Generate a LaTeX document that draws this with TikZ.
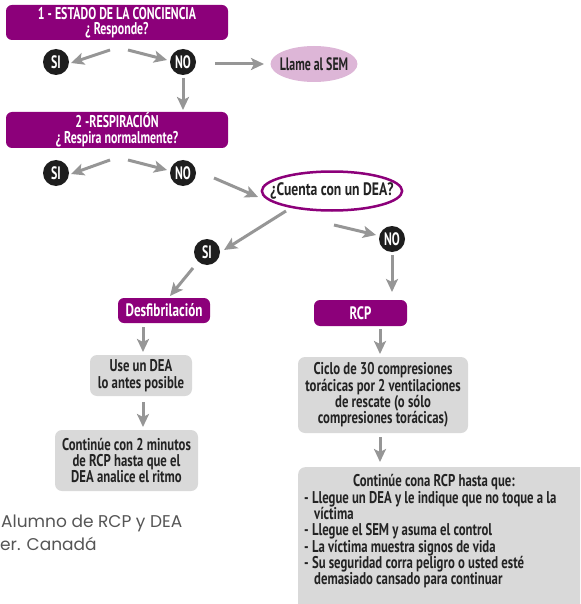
\documentclass[tikz,border=0pt]{standalone}
\usepackage{fontspec}
\setmainfont{PT Sans}[FakeStretch=0.71]
\newfontfamily\narrowfont{PT Sans}[FakeStretch=0.66]
\newfontfamily\headfont{PT Sans}[FakeStretch=0.70]
\newfontfamily\bigfont{PT Sans}[FakeStretch=0.75]
\newfontfamily\deafont{PT Sans}[FakeStretch=0.76]
\newfontfamily\desfont{PT Sans}[FakeStretch=0.73]
\newfontfamily\notefont{Poppins}
\usetikzlibrary{shapes.geometric,arrows.meta}
\definecolor{purp}{RGB}{140,0,122}
\definecolor{pinkfill}{RGB}{221,182,215}
\definecolor{boxgray}{RGB}{217,217,217}
\definecolor{arrgray}{RGB}{150,150,150}
\definecolor{txt}{RGB}{35,35,35}
\definecolor{dark}{RGB}{30,30,30}
\tikzset{
  pbox/.style={draw=none,fill=purp,rounded corners=6pt,text=white,font=\bfseries\fontsize{18}{15}\selectfont,align=center,inner sep=0pt},
  hbox/.style={pbox,minimum width=222pt,font=\headfont\bfseries\fontsize{17}{15.5}\selectfont},
  gbox/.style={draw=none,fill=boxgray,rounded corners=7pt,text=txt,font=\bigfont\bfseries\fontsize{17}{16.4}\selectfont,align=center,inner sep=0pt},
  yn/.style={circle,fill=dark,text=white,minimum size=26pt,inner sep=0pt,font=\narrowfont\bfseries\fontsize{18}{16}\selectfont},
  arr/.style={draw=arrgray,line width=3pt,-{Stealth[length=13pt,width=12pt,inset=3pt]}},
}
\begin{document}
\begin{tikzpicture}[x=1pt,y=-1pt]
\useasboundingbox (0,0) rectangle (580,604);
\clip (0,0) rectangle (580,604);
% nodes
\node[hbox,minimum height=35pt] (b1) at (117,22.5) {1 - ESTADO DE LA CONCIENCIA\\¿ Responde?};
\node[yn] (si1) at (56,62) {SI};
\node[yn] (no1) at (183,62) {NO};
\node[ellipse,fill=pinkfill,minimum height=36pt,inner xsep=-3.5pt,inner ysep=0pt,text=txt,font=\narrowfont\bfseries\fontsize{18}{16}\selectfont] (sem) at (314,64) {Llame al SEM};
\node[hbox,minimum height=36pt] (b2) at (117,130) {2 -RESPIRACIÓN\\¿ Respira normalmente?};
\node[yn] (si2) at (56,173) {SI};
\node[yn] (no2) at (183,173) {NO};
\node[ellipse,draw=purp,line width=2.5pt,fill=white,minimum height=39pt,inner xsep=-12pt,inner ysep=0pt,text=txt,font=\deafont\bfseries\fontsize{18}{16}\selectfont] (dea) at (332,191) {¿Cuenta con un DEA?};
\node[yn] (si3) at (207,252) {SI};
\node[yn] (no3) at (392,239) {NO};
\node[pbox,minimum width=92pt,minimum height=25pt,font=\desfont\bfseries\fontsize{18}{15}\selectfont] (desf) at (164,310.5) {Desfibrilación};
\node[pbox,minimum width=93pt,minimum height=26pt] (rcp) at (360.5,313) {RCP};
\node[gbox,minimum width=102pt,minimum height=41pt] (use) at (141,375.5) {Use un DEA\\lo antes posible};
\node[gbox,minimum width=143pt,minimum height=61pt] (cont) at (126.5,460.5) {Continúe con 2 minutos\\de RCP hasta que el\\DEA analice el ritmo};
\node[gbox,minimum width=170pt,minimum height=76pt] (ciclo) at (383,395) {Ciclo de 30 compresiones\\torácicas por 2 ventilaciones\\de rescate (o sólo\\compresiones torácicas)};
\node[gbox,anchor=north west,minimum width=300pt,minimum height=150pt] (big) at (298,467) {};
\node[anchor=base,inner sep=0pt,text=txt,font=\bigfont\bfseries\fontsize{17}{16}\selectfont] (bighead) at (434,486) {Continúe cona RCP hasta que:};
\node[anchor=north west,inner sep=0pt,text=txt,align=left,font=\bigfont\bfseries\fontsize{17}{16.3}\selectfont] (bigtxt) at (304,491) {-\ Llegue un DEA y le indique que no toque a la\\\hspace*{10pt}víctima\\-\ Llegue el SEM y asuma el control\\-\ La víctima muestra signos de vida\\-\ Su seguridad corra peligro o usted esté\\\hspace*{10pt}demasiado cansado para continuar};
\node[anchor=north west,inner sep=0pt,align=left,text={rgb,255:red,85;green,85;blue,85},font=\notefont\fontsize{17}{23}\selectfont] (note) at (0,515) {\hspace*{1pt}Alumno de RCP y DEA\\er. Canadá};
% arrow coordinates
\coordinate (a1) at (110,50); \coordinate (a1e) at (71,63);
\coordinate (a2) at (128,50); \coordinate (a2e) at (167,60);
\coordinate (a3) at (215,64); \coordinate (a3e) at (264,64);
\coordinate (a4) at (183,78); \coordinate (a4e) at (183,110);
\coordinate (a5) at (110,160); \coordinate (a5e) at (71,174);
\coordinate (a6) at (128,160); \coordinate (a6e) at (167,170);
\coordinate (a7) at (214,178); \coordinate (a7e) at (258,197);
\coordinate (a8) at (286,211); \coordinate (a8e) at (224,250);
\coordinate (a9) at (334,225); \coordinate (a9e) at (376,235);
\coordinate (a10) at (193,268); \coordinate (a10e) at (170,296);
\coordinate (a11) at (392,255); \coordinate (a11e) at (392,292);
\coordinate (a12) at (143,327); \coordinate (a12e) at (143,352);
\coordinate (a13) at (143,402); \coordinate (a13e) at (143,427);
\coordinate (a14) at (380,329); \coordinate (a14e) at (380,354);
\coordinate (a15) at (380,437); \coordinate (a15e) at (380,462);
\draw[arr] (a1) -- (a1e);
\draw[arr] (a2) -- (a2e);
\draw[arr] (a3) -- (a3e);
\draw[arr] (a4) -- (a4e);
\draw[arr] (a5) -- (a5e);
\draw[arr] (a6) -- (a6e);
\draw[arr] (a7) -- (a7e);
\draw[arr] (a8) -- (a8e);
\draw[arr] (a9) -- (a9e);
\draw[arr] (a10) -- (a10e);
\draw[arr] (a11) -- (a11e);
\draw[arr] (a12) -- (a12e);
\draw[arr] (a13) -- (a13e);
\draw[arr] (a14) -- (a14e);
\draw[arr] (a15) -- (a15e);
\end{tikzpicture}
\end{document}
